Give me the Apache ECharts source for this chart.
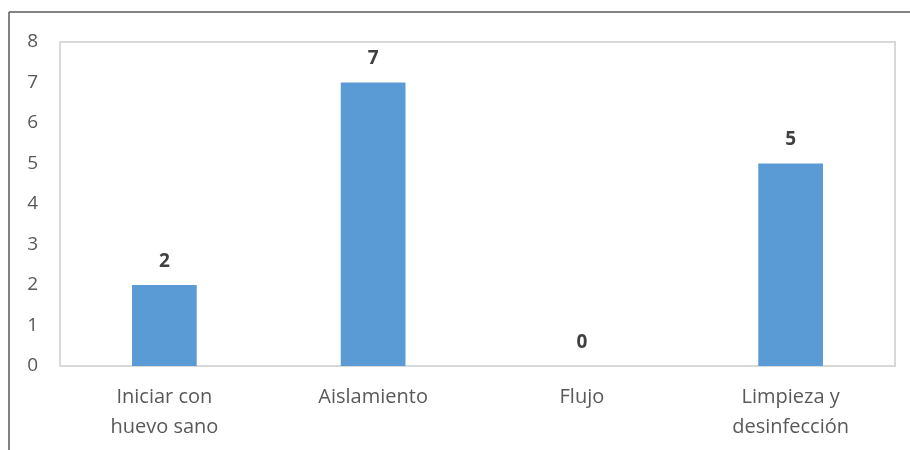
<!DOCTYPE html>
<html>
<head>
<meta charset="utf-8">
<script src="https://cdn.jsdelivr.net/npm/echarts@6/dist/echarts.min.js"></script>
<style>
  html, body { margin: 0; padding: 0; background: #ffffff; }
  #chart { width: 910px; height: 450px; }
</style>
</head>
<body>
<div id="chart"></div>
<script>
// Categories and counts for each practice
const categories = ['Iniciar con\nhuevo sano', 'Aislamiento', 'Flujo', 'Limpieza y\ndesinfección'];
const counts = [2, 7, 0, 5];
const yTicks = [0, 1, 2, 3, 4, 5, 6, 7, 8];

const chart = echarts.init(document.getElementById('chart'), null, { renderer: 'canvas' });
const font = '"Open Sans", "Liberation Sans", sans-serif';

chart.setOption({
  animation: false,
  backgroundColor: '#ffffff',
  graphic: [
    // frame lines along the top and left edges
    { type: 'line', shape: { x1: 9, y1: 12, x2: 910, y2: 12 }, style: { stroke: '#595959', lineWidth: 1.5 } },
    { type: 'line', shape: { x1: 9, y1: 12, x2: 9, y2: 450 }, style: { stroke: '#595959', lineWidth: 1.5 } }
  ],
  grid: {
    left: 60, right: 15, top: 42, bottom: 84,
    show: true, borderColor: '#d9d9d9', borderWidth: 2, backgroundColor: 'transparent'
  },
  xAxis: {
    type: 'category',
    data: categories,
    axisLine: { show: true, lineStyle: { color: '#d9d9d9', width: 2 } },
    axisTick: { show: false },
    axisLabel: { color: '#595959', fontFamily: font, fontSize: 20, lineHeight: 30, margin: 16, interval: 0 }
  },
  yAxis: {
    type: 'value',
    min: yTicks[0], max: yTicks[yTicks.length - 1], interval: 1,
    splitLine: { show: false },
    axisLine: { show: false },
    axisTick: { show: false },
    axisLabel: { color: '#595959', fontFamily: font, fontSize: 19, margin: 22 }
  },
  series: [{
    type: 'bar',
    data: counts,
    barWidth: '31%',
    itemStyle: { color: '#5b9bd5' },
    label: {
      show: true, position: 'top', distance: 14,
      color: '#404040', fontFamily: font, fontSize: 19, fontWeight: 'bold'
    }
  }]
});
</script>
</body>
</html>
